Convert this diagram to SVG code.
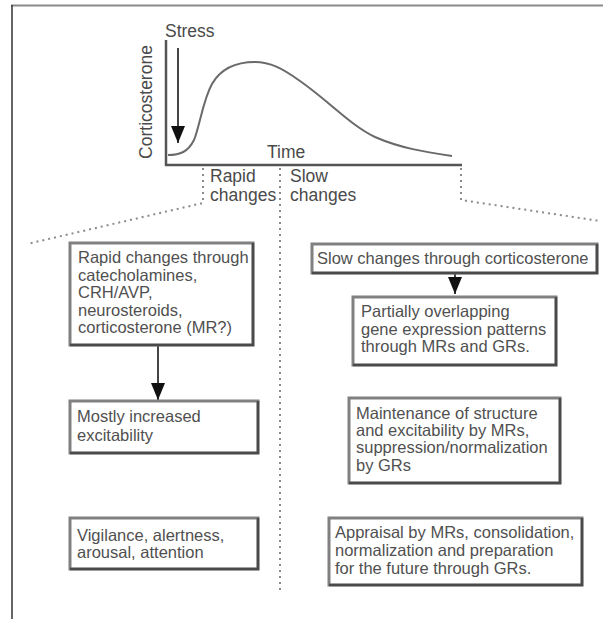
<svg xmlns="http://www.w3.org/2000/svg" width="603" height="619" viewBox="0 0 603 619">
<style>
.t{font-family:"Liberation Sans",Arial,sans-serif;font-size:16.5px;fill:#505050}
.h{font-family:"Liberation Sans",Arial,sans-serif;font-size:17.5px;fill:#4a4a4a}
.box{fill:#fff;stroke:#808080;stroke-width:3}
.sh{fill:none;stroke:#4a4a4a;stroke-width:2.5}
.dot{fill:none;stroke:#8a8a8a;stroke-width:2;stroke-dasharray:2 4}
.ax{fill:none;stroke:#555;stroke-width:2.5}
.arr{stroke:#444;stroke-width:2}
</style>
<defs>
<marker id="ah" markerWidth="17" markerHeight="14" refX="17" refY="7" orient="auto" markerUnits="userSpaceOnUse" viewBox="0 0 17 14">
<path d="M0,0 L17,7 L0,14 Z" fill="#111"/>
</marker>
</defs>
<rect width="603" height="619" fill="#fff"/>
<line x1="11" y1="5.5" x2="603" y2="5.5" stroke="#8a8a8a" stroke-width="2"/>
<line x1="12" y1="5" x2="12" y2="619" stroke="#333" stroke-width="1.5"/>

<g id="graph">
<line class="ax" x1="166" y1="40" x2="166" y2="166"/>
<line class="ax" x1="165" y1="165" x2="462" y2="165"/>
<path d="M168,155 C180,155 188,152 194,140 C200,125 203,100 212,84 C220,70 235,62 255,62 C270,62 282,68 300,81 C330,102 350,125 375,137 C400,148 425,152 452,156" fill="none" stroke="#6a6a6a" stroke-width="2"/>
<text class="h" x="165" y="37">Stress</text>
<text class="h" x="0" y="0" transform="translate(152,102) rotate(-90)" text-anchor="middle">Corticosterone</text>
<text class="h" x="267" y="158">Time</text>
<text class="h" x="210" y="182">Rapid</text>
<text class="h" x="210" y="201">changes</text>
<text class="h" x="290" y="182">Slow</text>
<text class="h" x="290" y="201">changes</text>
</g>

<g id="connectors">
<line class="arr" x1="178" y1="48" x2="178" y2="143" marker-end="url(#ah)"/>
<line class="arr" x1="158" y1="346" x2="158" y2="400" marker-end="url(#ah)"/>
<line class="arr" x1="455" y1="273" x2="455" y2="294" marker-end="url(#ah)"/>
<polyline class="dot" points="203,168 203,203 27,244"/>
<polyline class="dot" points="461,168 461,200 600,221"/>
<line class="dot" x1="280" y1="168" x2="280" y2="590"/>
</g>

<g id="rapid">
<rect class="box" x="70" y="243" width="183" height="102"/>
<polyline class="sh" points="253,243 253,345 70,345"/>
<text class="t" x="78" y="263">Rapid changes through</text>
<text class="t" x="78" y="281">catecholamines,</text>
<text class="t" x="78" y="298">CRH/AVP,</text>
<text class="t" x="78" y="316">neurosteroids,</text>
<text class="t" x="78" y="333">corticosterone (MR?)</text>
</g>

<g id="excitability">
<rect class="box" x="70" y="401" width="188" height="52"/>
<polyline class="sh" points="258,401 258,453 70,453"/>
<text class="t" x="77" y="422">Mostly increased</text>
<text class="t" x="77" y="441">excitability</text>
</g>

<g id="vigilance">
<rect class="box" x="70" y="518" width="188" height="51"/>
<polyline class="sh" points="258,518 258,569 70,569"/>
<text class="t" x="77" y="541">Vigilance, alertness,</text>
<text class="t" x="77" y="558">arousal, attention</text>
</g>

<g id="slow">
<rect class="box" x="312" y="244" width="285" height="29"/>
<polyline class="sh" points="597,244 597,273 312,273"/>
<text class="t" x="317" y="264">Slow changes through corticosterone</text>
</g>

<g id="gene">
<rect class="box" x="353" y="297" width="203" height="68"/>
<polyline class="sh" points="556,297 556,365 353,365"/>
<text class="t" x="361" y="317">Partially overlapping</text>
<text class="t" x="361" y="335">gene expression patterns</text>
<text class="t" x="361" y="352">through MRs and GRs.</text>
</g>

<g id="maintenance">
<rect class="box" x="349" y="398" width="211" height="85"/>
<polyline class="sh" points="560,398 560,483 349,483"/>
<text class="t" x="356" y="419">Maintenance of structure</text>
<text class="t" x="356" y="436">and excitability by MRs,</text>
<text class="t" x="356" y="453">suppression/normalization</text>
<text class="t" x="356" y="471">by GRs</text>
</g>

<g id="appraisal">
<rect class="box" x="329" y="518" width="253" height="67"/>
<polyline class="sh" points="582,518 582,585 329,585"/>
<text class="t" x="335" y="538">Appraisal by MRs, consolidation,</text>
<text class="t" x="335" y="556">normalization and preparation</text>
<text class="t" x="335" y="574">for the future through GRs.</text>
</g>
</svg>
